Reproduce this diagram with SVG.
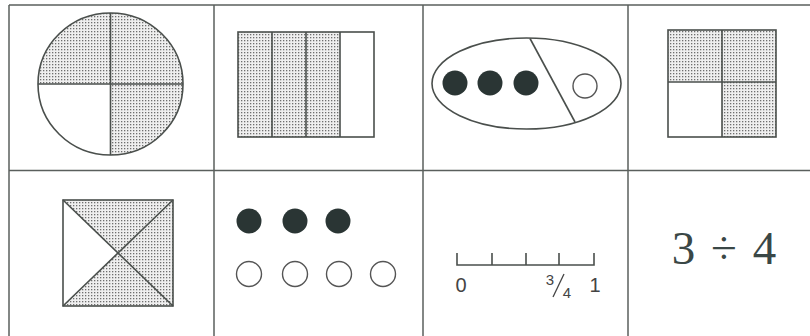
<svg xmlns="http://www.w3.org/2000/svg" width="810" height="336" viewBox="0 0 810 336">
<defs>
<pattern id="dots" width="3" height="3" patternUnits="userSpaceOnUse">
<rect width="3" height="3" fill="#efefef"/>
<rect x="1" y="1" width="1.3" height="1.3" fill="#6e6e6e"/>
</pattern>
</defs>
<style>
.grid{stroke:#5a5f5c;stroke-width:1.5;fill:none}
.ln{stroke:#4a4f4c;stroke-width:1.6;fill:none}
.sh{fill:url(#dots)}
.dot{fill:#2a3534}
.open{fill:#fff;stroke:#555;stroke-width:1.4}
.sans{font-family:"Liberation Sans",Arial,sans-serif;fill:#444}
.serif{font-family:"Liberation Serif","Times New Roman",serif;fill:#3a4746}
</style>
<rect width="810" height="336" fill="#fff"/>
<g id="grid">
<line class="grid" x1="9" y1="5" x2="810" y2="5"/>
<line class="grid" x1="9" y1="5" x2="9" y2="336"/>
<line class="grid" x1="214" y1="5" x2="214" y2="336"/>
<line class="grid" x1="423" y1="5" x2="423" y2="336"/>
<line class="grid" x1="628" y1="5" x2="628" y2="336"/>
<line class="grid" x1="9" y1="170.5" x2="810" y2="170.5"/>
</g>
<g id="circle">
<path class="sh" d="M110.5,84 L38,84 A72.5,71 0 0 1 183,84 A72.5,71 0 0 1 110.5,155 Z"/>
<ellipse class="ln" cx="110.5" cy="84" rx="72.5" ry="71"/>
<line class="ln" x1="110.5" y1="13" x2="110.5" y2="155"/>
<line class="ln" x1="38" y1="84" x2="183" y2="84"/>
</g>
<g id="bars">
<rect class="sh" x="238" y="32" width="102" height="105"/>
<rect class="ln" x="238" y="32" width="136" height="105"/>
<line class="ln" x1="272" y1="32" x2="272" y2="137"/>
<line class="ln" x1="306" y1="32" x2="306" y2="137"/>
<line class="ln" x1="340" y1="32" x2="340" y2="137"/>
</g>
<g id="oval">
<ellipse class="ln" cx="526.5" cy="83.5" rx="94.5" ry="45.5"/>
<line class="ln" x1="530" y1="38.5" x2="575" y2="122"/>
<circle class="dot" cx="455" cy="83" r="12.5"/>
<circle class="dot" cx="490" cy="83" r="12.5"/>
<circle class="dot" cx="526" cy="83" r="12.5"/>
<circle class="open" cx="585" cy="86" r="12"/>
</g>
<g id="square">
<rect class="sh" x="668" y="30" width="108" height="107"/>
<rect x="668" y="82" width="54" height="55" fill="#fff"/>
<rect class="ln" x="668" y="30" width="108" height="107"/>
<line class="ln" x1="722" y1="30" x2="722" y2="137"/>
<line class="ln" x1="668" y1="82" x2="776" y2="82"/>
</g>
<g id="xsquare">
<rect class="sh" x="63" y="200" width="110" height="106"/>
<polygon points="63,200 118,253 63,306" fill="#fff"/>
<rect class="ln" x="63" y="200" width="110" height="106"/>
<line class="ln" x1="63" y1="200" x2="173" y2="306"/>
<line class="ln" x1="173" y1="200" x2="63" y2="306"/>
</g>
<g id="sets">
<circle class="dot" cx="249" cy="221" r="12.5"/>
<circle class="dot" cx="295" cy="221" r="12.5"/>
<circle class="dot" cx="338" cy="221" r="12.5"/>
<circle class="open" cx="249" cy="274" r="12.5"/>
<circle class="open" cx="295" cy="274" r="12.5"/>
<circle class="open" cx="339" cy="274" r="12.5"/>
<circle class="open" cx="383" cy="274" r="12.5"/>
</g>
<g id="numberline">
<path class="ln" stroke-width="1.3" d="M457,253 V265 H594 V253 M492,253 V265 M526,253 V265 M559,253 V265"/>
<text class="sans" x="461" y="292" font-size="20" text-anchor="middle">0</text>
<text class="sans" x="550" y="285" font-size="15" text-anchor="middle">3</text>
<line x1="553" y1="297" x2="564" y2="274" stroke="#444" stroke-width="1.3"/>
<text class="sans" x="567" y="298" font-size="15" text-anchor="middle">4</text>
<text class="sans" x="595" y="292" font-size="20" text-anchor="middle">1</text>
</g>
<g id="division">
<text class="serif" x="724" y="264" font-size="47" text-anchor="middle" word-spacing="4">3 ÷ 4</text>
</g>
</svg>
